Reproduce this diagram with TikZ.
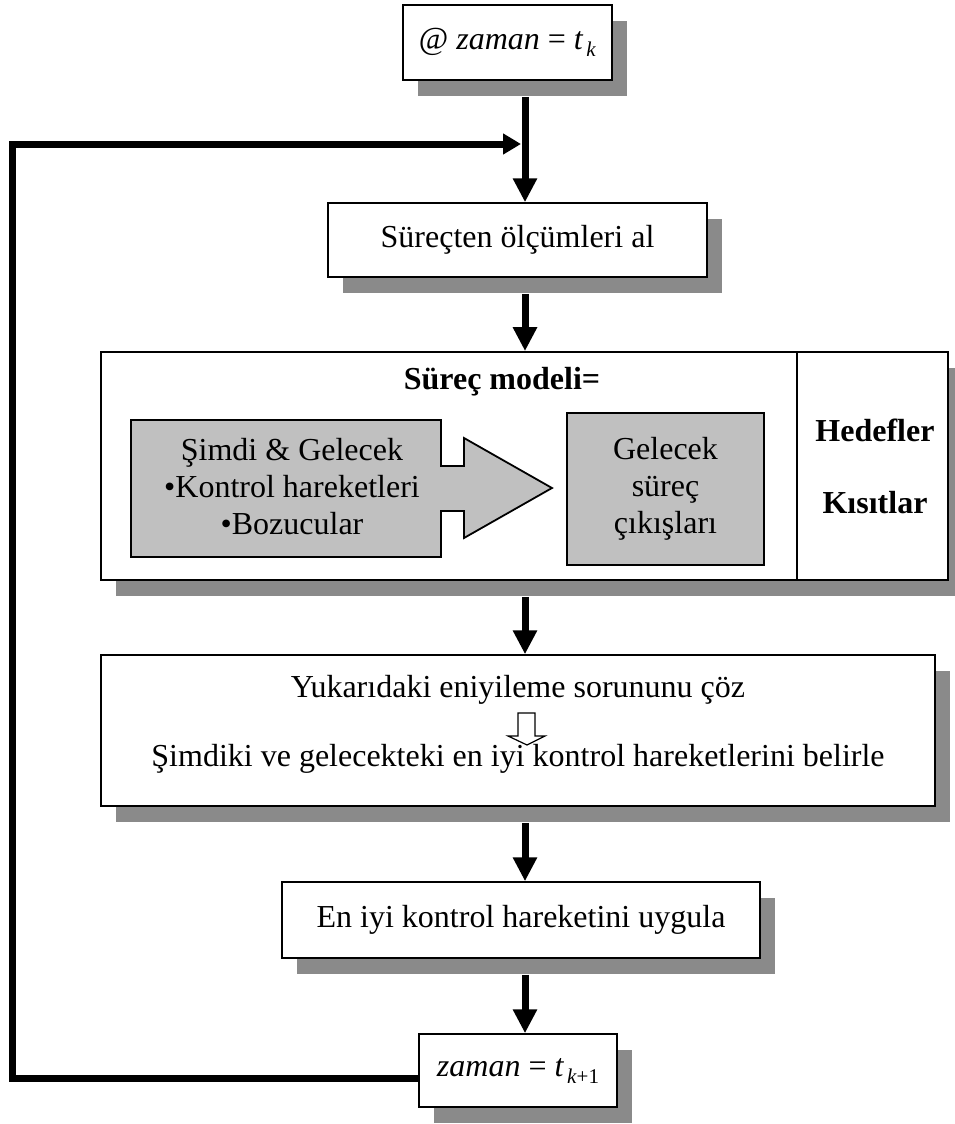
\documentclass[tikz,border=0pt]{standalone}
\usepackage{fontspec}
\setmainfont{Liberation Serif}
\usepackage{tikz}
\usetikzlibrary{calc,arrows.meta,shadows}
\definecolor{boxgray}{RGB}{192,192,192}
\definecolor{shadowgray}{RGB}{138,138,138}
\newcommand{\tsub}[1]{\textit{t}\kern3pt\raisebox{-7pt}{\fontsize{21}{21}\selectfont #1}}
\tikzset{
  fcbox/.style={rectangle, draw=black, fill=white, line width=1.5pt, inner sep=0pt,
                font=\fontsize{32}{37}\selectfont, align=center,
                drop shadow={shadow xshift=15pt, shadow yshift=-16pt,
                             fill=shadowgray, opacity=1}},
  fcgray/.style={draw=black, fill=boxgray, line width=1.8pt},
  fctext/.style={inner sep=0pt, font=\fontsize{32}{37}\selectfont, align=center},
  fcbold/.style={fctext, font=\fontsize{32}{37}\selectfont\bfseries},
  fcflow/.style={-{Triangle[length=24pt,width=23pt]}, line width=7pt},
  fcloop/.style={-{Triangle[length=18pt,width=20pt]}, line width=7pt},
  fchollow/.style={draw=black, line width=1.2pt},
}

\begin{document}
\begin{tikzpicture}[x=1pt, y=-1pt]
  \useasboundingbox (0,0) rectangle (954,1124);
  \coordinate (ax) at (525,0);
  \coordinate (dv) at (797,0);
  \coordinate (lc) at (12,144);
  \coordinate (jn) at (521,144);

  \node[fcbox, minimum width=209pt, minimum height=75pt] (t0) at (507.5,42.5)
    {@ \textit{zaman} = \tsub{\textit{k}}};
  \node[fcbox, minimum width=379pt, minimum height=74pt] (t1) at (517.5,240)
    {Süreçten ölçümleri al};
  \node[fcbox, line width=1.8pt, minimum width=847pt, minimum height=228pt] (t2) at (524.5,466) {};
  \node[fcbox, minimum width=834pt, minimum height=151pt] (t3) at (518,730.5)
    {Yukarıdaki eniyileme sorununu çöz\\[32pt]Şimdiki ve gelecekteki en iyi kontrol hareketlerini belirle\rule[-20pt]{0pt}{20pt}};
  \node[fcbox, minimum width=478pt, minimum height=76pt] (t4) at (521,920)
    {En iyi kontrol hareketini uygula};
  \node[fcbox, minimum width=198pt, minimum height=73pt] (t5) at (518,1070.5)
    {\textit{zaman} = \tsub{\textit{k}+1}};

  % process model
  \draw[line width=1.8pt] (t2.north -| dv) -- (t2.south -| dv);
  \node[fcbold] (mdl) at (502,382) {Süreç modeli=};
  \draw[fcgray] (131,420) -- (441,420) -- (441,466) -- (464,466) -- (464,438) -- (552,488)
    -- (464,538) -- (464,511) -- (441,511) -- (441,557) -- (131,557) -- cycle;
  \node[fctext] (inp) at (292,487) {Şimdi \& Gelecek\\•Kontrol hareketleri\\•Bozucular};
  \node[fcgray, fctext, minimum width=197pt, minimum height=152pt, line width=1.8pt] (out) at (665.5,489)
    {Gelecek\\süreç\\çıkışları};
  \node[fcbold] (obj) at (875,430) {Hedefler};
  \node[fcbold] (cns) at (875,503) {Kısıtlar};

  \draw[fchollow] (518,713) -- (535,713) -- (535,736) -- (545,736) -- (527,745)
    -- (508,736) -- (518,736) -- cycle;

  % flow
  \draw[fcflow] ($(t0.south -| ax)+(0,16)$) -- (t1.north -| ax);
  \draw[fcflow] ($(t1.south -| ax)+(0,16)$) -- (t2.north -| ax);
  \draw[fcflow] ($(t2.south -| ax)+(0,16)$) -- (t3.north -| ax);
  \draw[fcflow] ($(t3.south -| ax)+(0,16)$) -- (t4.north -| ax);
  \draw[fcflow] ($(t4.south -| ax)+(0,16)$) -- (t5.north -| ax);
  \draw[fcloop] ($(t5.west)+(0,8)$) -| (lc) -- (jn);
\end{tikzpicture}
\end{document}
